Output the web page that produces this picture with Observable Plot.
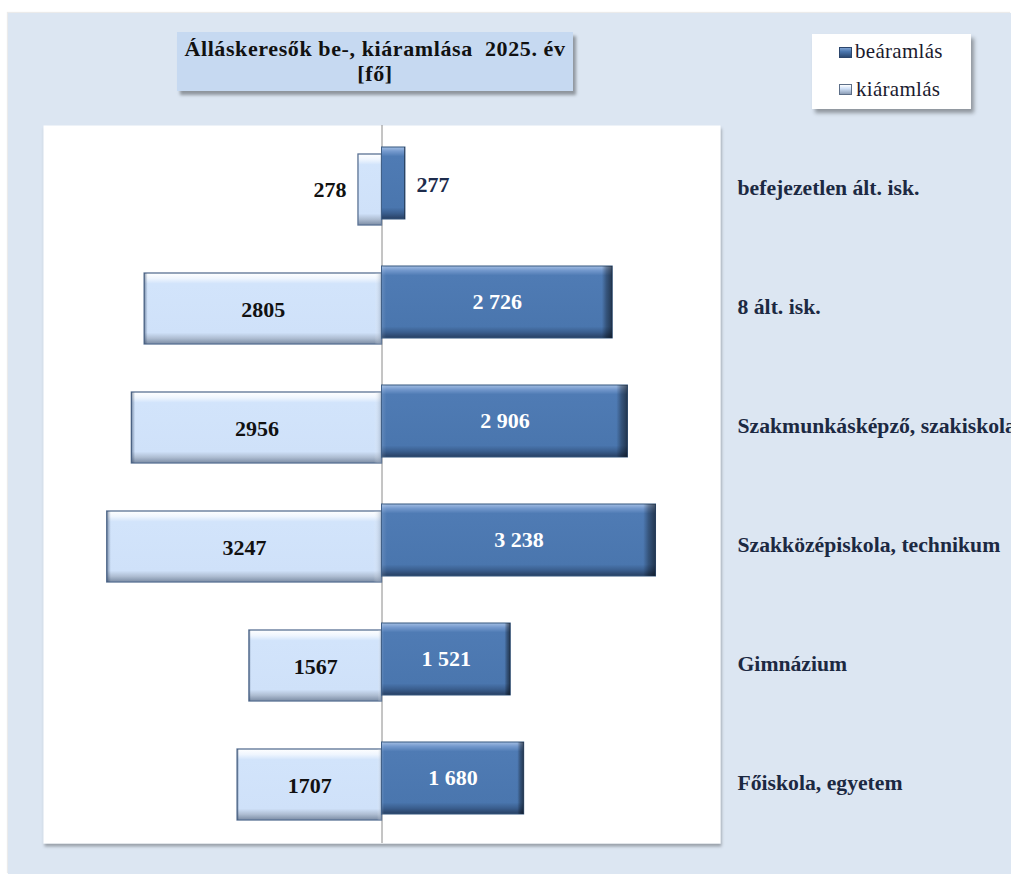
<!DOCTYPE html>
<html>
<head>
<meta charset="utf-8">
<script src="https://cdn.jsdelivr.net/npm/d3@7"></script>
<script src="https://cdn.jsdelivr.net/npm/@observablehq/plot@0.6"></script>
<style>
  html, body { margin: 0; padding: 0; background: #ffffff; }
  #wrap { position: relative; width: 1011px; height: 874px; overflow: hidden; font-family: 'Liberation Serif', 'Times New Roman', serif; }
  #bg { position: absolute; left: 8px; top: 13px; right: 0; bottom: 0; background: #dce6f2; box-shadow: -1px -1px 1px rgba(0,0,0,0.08); }
  #chart { position: absolute; left: 0; top: 0; }
  #title { position: absolute; left: 177px; top: 32px; width: 396px; height: 59px; background: #c6d9f1;
           box-shadow: 3px 4px 3px rgba(0,0,0,0.35); text-align: center; font-weight: bold; font-size: 22px;
           letter-spacing: 0.6px; line-height: 25px; color: #111; padding-top: 4px; box-sizing: border-box; white-space: pre; }
  #legend { position: absolute; left: 812px; top: 34px; width: 159px; height: 75px; background: #ffffff;
            box-shadow: 3px 4px 4px rgba(0,0,0,0.35); }
  .li { position: absolute; font-size: 21px; letter-spacing: 0.3px; color: #1a1a2e; line-height: 21px; }
  .sw { position: absolute; width: 13px; height: 11px; left: 27px; box-sizing: border-box; }
</style>
</head>
<body>
<div id="wrap">
  <div id="bg"></div>
  <div id="chart"></div>
  <div id="title">Álláskeresők be-, kiáramlása  2025. év
[fő]</div>
  <div id="legend">
    <div class="sw" style="top:13px; background: linear-gradient(#7ea2d2, #4a76ae 40%, #2c4a74); border:1px solid #2c466c;"></div>
    <div class="li" style="left:43px; top:7px;">beáramlás</div>
    <div class="sw" style="top:50px; background: linear-gradient(#ffffff, #cfe0f7 40%, #8c9db5); border:1px solid #5d6f88;"></div>
    <div class="li" style="left:44px; top:45px;">kiáramlás</div>
  </div>
</div>
<script>
// ---- data ----
const categories = [
  "befejezetlen ált. isk.",
  "8 ált. isk.",
  "Szakmunkásképző, szakiskola",
  "Szakközépiskola, technikum",
  "Gimnázium",
  "Főiskola, egyetem"
];
const beaaramlas = [277, 2726, 2906, 3238, 1521, 1680];
const kiaramlas  = [278, 2805, 2956, 3247, 1567, 1707];
const seriesNames = ["beáramlás", "kiáramlás"];

const rows = categories.map((c, i) => ({cat: c, be: beaaramlas[i], ki: kiaramlas[i]}));
const fmtSpace = v => String(v).replace(/\B(?=(\d{3})+(?!\d))/g, " ");
const font = "'Liberation Serif', 'Times New Roman', serif";
const small = 500;

const chart = Plot.plot({
  width: 1011,
  height: 874,
  marginLeft: 43,
  marginRight: 291,
  marginTop: 125,
  marginBottom: 31,
  x: {domain: [-4000, 4000], axis: null},
  y: {domain: categories, axis: null, padding: 0},
  style: {background: "transparent", overflow: "hidden", fontFamily: font},
  marks: [
    Plot.frame({fill: "white", stroke: null, ariaLabel: "plotarea"}),
    Plot.ruleX([0], {stroke: "#8a8a8a", strokeWidth: 1}),
    // kiáramlás bars (left)
    Plot.barX(rows, {x1: 0, x2: d => -d.ki, y: "cat", insetTop: 27, insetBottom: 21,
      fill: "url(#gLight)", stroke: "#5a7294", strokeWidth: 1.3, ariaLabel: "ki-bars"}),
    Plot.barX(rows, {x1: 0, x2: d => -d.ki, y: "cat", insetTop: 27, insetBottom: 21,
      fill: "url(#gLightH)", ariaLabel: "ki-bevel"}),
    // beáramlás bars (right)
    Plot.barX(rows, {x1: 0, x2: "be", y: "cat", insetTop: 20, insetBottom: 27,
      fill: "url(#gBlue)", stroke: "#35567f", strokeWidth: 1, ariaLabel: "be-bars"}),
    Plot.barX(rows, {x1: 0, x2: "be", y: "cat", insetTop: 20, insetBottom: 27,
      fill: "url(#gBlueH)", ariaLabel: "be-bevel"}),
    // labels
    Plot.text(rows, {filter: d => d.ki >= small, x: d => -d.ki / 2, y: "cat", dy: 4,
      text: d => String(d.ki), fill: "#111", fontWeight: "bold", fontSize: 22, fontFamily: font}),
    Plot.text(rows, {filter: d => d.ki < small, x: d => -d.ki, y: "cat", dy: 3, dx: -12, textAnchor: "end",
      text: d => String(d.ki), fill: "#111", fontWeight: "bold", fontSize: 22, fontFamily: font}),
    Plot.text(rows, {filter: d => d.be >= small, x: d => d.be / 2, y: "cat", dy: -4,
      text: d => fmtSpace(d.be), fill: "#ffffff", fontWeight: "bold", fontSize: 22, fontFamily: font}),
    Plot.text(rows, {filter: d => d.be < small, x: d => d.be, y: "cat", dy: -2, dx: 11, textAnchor: "start",
      text: d => fmtSpace(d.be), fill: "#1d2c4c", fontWeight: "bold", fontSize: 22, fontFamily: font}),
    // category labels
    Plot.text(rows, {x: 4000, y: "cat", dx: 17, dy: 1, textAnchor: "start", text: "cat",
      fill: "#1c2942", fontWeight: "bold", fontSize: 21.7, fontFamily: font})
  ]
});

const svgNS = "http://www.w3.org/2000/svg";
const defs = document.createElementNS(svgNS, "defs");
defs.innerHTML = `
  <linearGradient id="gBlue" x1="0" y1="0" x2="0" y2="1">
    <stop offset="0" stop-color="#a3bee3"/>
    <stop offset="0.06" stop-color="#7499cd"/>
    <stop offset="0.13" stop-color="#4f7bb4"/>
    <stop offset="0.84" stop-color="#4a76ae"/>
    <stop offset="0.92" stop-color="#3a5e8e"/>
    <stop offset="1" stop-color="#273f62"/>
  </linearGradient>
  <linearGradient id="gBlueH" x1="0" y1="0" x2="1" y2="0">
    <stop offset="0" stop-color="#ffffff" stop-opacity="0.12"/>
    <stop offset="0.02" stop-color="#ffffff" stop-opacity="0"/>
    <stop offset="0.955" stop-color="#000000" stop-opacity="0"/>
    <stop offset="0.975" stop-color="#000000" stop-opacity="0.3"/>
    <stop offset="1" stop-color="#000000" stop-opacity="0.55"/>
  </linearGradient>
  <linearGradient id="gLight" x1="0" y1="0" x2="0" y2="1">
    <stop offset="0" stop-color="#ffffff"/>
    <stop offset="0.08" stop-color="#eef5fe"/>
    <stop offset="0.15" stop-color="#d2e4fb"/>
    <stop offset="0.84" stop-color="#cfe1f9"/>
    <stop offset="0.92" stop-color="#aebdd2"/>
    <stop offset="1" stop-color="#7b8ca4"/>
  </linearGradient>
  <linearGradient id="gLightH" x1="0" y1="0" x2="1" y2="0">
    <stop offset="0" stop-color="#2e4566" stop-opacity="0.55"/>
    <stop offset="0.015" stop-color="#2e4566" stop-opacity="0"/>
    <stop offset="0.97" stop-color="#ffffff" stop-opacity="0"/>
    <stop offset="1" stop-color="#8596ad" stop-opacity="0.5"/>
  </linearGradient>
  <filter id="shadow" x="-10%" y="-10%" width="130%" height="140%">
    <feDropShadow dx="2" dy="3" stdDeviation="1.5" flood-color="#000" flood-opacity="0.35"/>
  </filter>
  <filter id="shadowFrame" x="-5%" y="-5%" width="110%" height="110%">
    <feDropShadow dx="1" dy="3" stdDeviation="1.5" flood-color="#000" flood-opacity="0.3"/>
  </filter>`;
chart.insertBefore(defs, chart.firstChild);
const setFilter = (label, f) => {
  const g = chart.querySelector(`[aria-label="${label}"]`);
  if (g) g.setAttribute("filter", f);
};
setFilter("plotarea", "url(#shadowFrame)");
setFilter("ki-bars", "url(#shadow)");
setFilter("be-bars", "url(#shadow)");

document.getElementById("chart").appendChild(chart);
</script>
</body>
</html>
